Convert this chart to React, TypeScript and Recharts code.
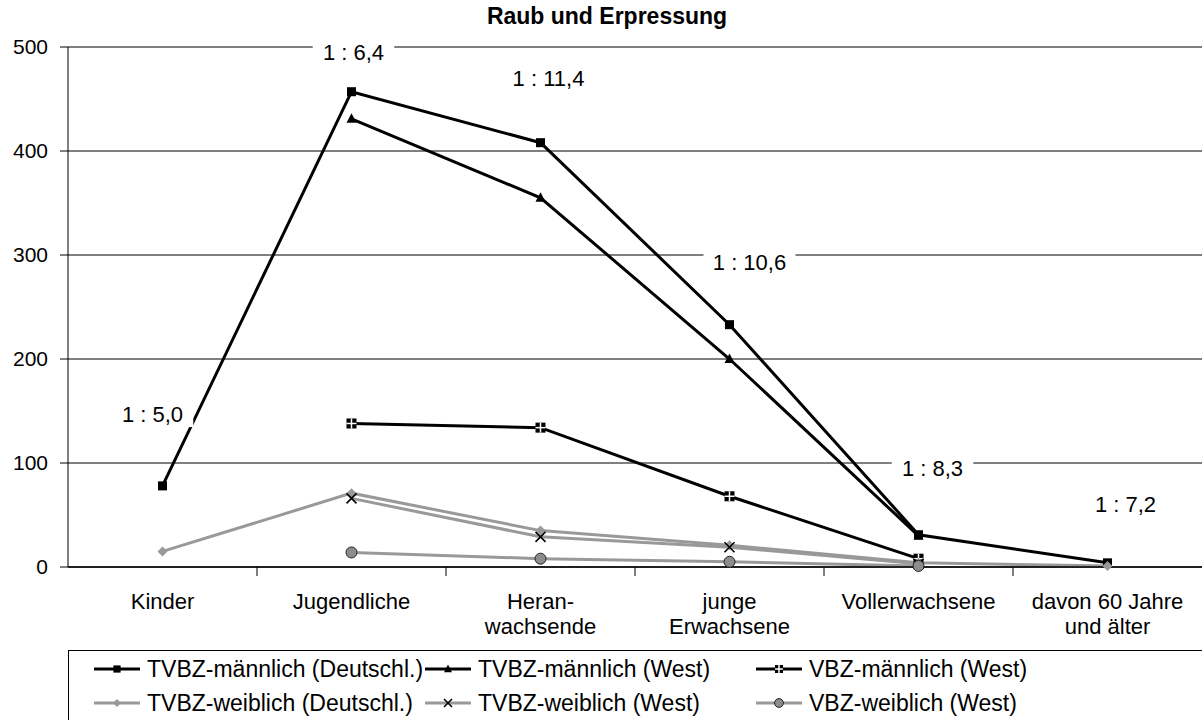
import React from 'react';
import { LineChart, Line, XAxis, YAxis, CartesianGrid, Legend, LabelList } from 'recharts';

const categories = ['Kinder', 'Jugendliche', 'Heran-\nwachsende', 'junge\nErwachsene', 'Vollerwachsene', 'davon 60 Jahre\nund älter'];

const tvbzMaennlichDe = [78, 457, 408, 233, 31, 4];
const tvbzMaennlichWest = [null, 431, 355, 200, 30, null];
const vbzMaennlichWest = [null, 138, 134, 68, 8, null];
const tvbzWeiblichDe = [15, 71, 35, 21, 4, 1];
const tvbzWeiblichWest = [null, 66, 29, 19, 3, null];
const vbzWeiblichWest = [null, 14, 8, 5, 1, null];

// Geschlechterverhältnis-Beschriftungen und ihre Höhe im Diagramm (Datenwerte)
const ratioLabels = ['1 : 5,0', '1 : 6,4', '1 : 11,4', '1 : 10,6', '1 : 8,3', '1 : 7,2'];
const ratioLabelY = [147, 495, 470, 293, 95, 61];

const yTicks = [0, 100, 200, 300, 400, 500];

const FONT = '"Liberation Sans", Arial, sans-serif';
const BLACK = '#000000';
const GREY = '#999999';
const PLOT_W = 1134;
const BAND = PLOT_W / categories.length;
// horizontale Verschiebung der Verhältnis-Beschriftungen (Layout)
const RATIO_DX = [-10, 2, 8, 20, 14, 18];

const series = [
  { key: 'tvbzMDe', name: 'TVBZ-männlich (Deutschl.)', color: BLACK, marker: 'square', values: tvbzMaennlichDe },
  { key: 'tvbzMWest', name: 'TVBZ-männlich (West)', color: BLACK, marker: 'triangle', values: tvbzMaennlichWest },
  { key: 'vbzMWest', name: 'VBZ-männlich (West)', color: BLACK, marker: 'crossSquare', values: vbzMaennlichWest },
  { key: 'tvbzWDe', name: 'TVBZ-weiblich (Deutschl.)', color: GREY, marker: 'diamond', values: tvbzWeiblichDe },
  { key: 'tvbzWWest', name: 'TVBZ-weiblich (West)', color: GREY, marker: 'x', values: tvbzWeiblichWest },
  { key: 'vbzWWest', name: 'VBZ-weiblich (West)', color: GREY, marker: 'circle', values: vbzWeiblichWest },
];

const data = categories.map((cat, i) => {
  const row: any = { cat, ratio: ratioLabels[i], ratioPos: ratioLabelY[i] };
  series.forEach(s => { row[s.key] = s.values[i]; });
  return row;
});

const Marker = ({ type, cx, cy, scale = 1 }: { type: string; cx: number; cy: number; scale?: number }) => {
  const s = scale;
  switch (type) {
    case 'square':
      return <rect x={cx - 4.5 * s} y={cy - 4.5 * s} width={9 * s} height={9 * s} fill={BLACK} />;
    case 'triangle':
      return <polygon points={`${cx},${cy - 5.5 * s} ${cx + 5 * s},${cy + 4 * s} ${cx - 5 * s},${cy + 4 * s}`} fill={BLACK} />;
    case 'crossSquare':
      return (
        <g>
          <rect x={cx - 5 * s} y={cy - 5 * s} width={10 * s} height={10 * s} fill={BLACK} />
          <line x1={cx} y1={cy - 5 * s} x2={cx} y2={cy + 5 * s} stroke="#fff" strokeWidth={1.5} />
          <line x1={cx - 5 * s} y1={cy} x2={cx + 5 * s} y2={cy} stroke="#fff" strokeWidth={1.5} />
        </g>
      );
    case 'diamond':
      return <polygon points={`${cx},${cy - 5 * s} ${cx + 5 * s},${cy} ${cx},${cy + 5 * s} ${cx - 5 * s},${cy}`} fill={GREY} />;
    case 'x':
      return (
        <g stroke={BLACK} strokeWidth={1.6}>
          <line x1={cx - 5 * s} y1={cy - 5 * s} x2={cx + 5 * s} y2={cy + 5 * s} />
          <line x1={cx - 5 * s} y1={cy + 5 * s} x2={cx + 5 * s} y2={cy - 5 * s} />
        </g>
      );
    case 'circle':
      return <circle cx={cx} cy={cy} r={5.5 * s} fill="#8c8c8c" stroke="#222" strokeWidth={1} />;
    default:
      return null;
  }
};

const makeDot = (type: string) => (props: any) => {
  const { cx, cy, index, value } = props;
  if (cx == null || cy == null || value == null || Number.isNaN(cy)) return <g key={`d-${index}`} />;
  return <g key={`d-${index}`}><Marker type={type} cx={cx} cy={cy} /></g>;
};

const CategoryTick = (props: any) => {
  const { x, y, payload, index } = props;
  const lines = String(payload.value).split('\n');
  return (
    <g>
      {index > 0 && <line x1={x - BAND / 2} y1={y} x2={x - BAND / 2} y2={y + 9} stroke={BLACK} />}
      <text x={x} y={y + 42} textAnchor="middle" fontSize={22} fontFamily={FONT} fill={BLACK}>
        {lines.map((l, i) => (
          <tspan key={i} x={x} dy={i === 0 ? 0 : 25}>{l}</tspan>
        ))}
      </text>
    </g>
  );
};

const RatioLabel = (props: any) => {
  const { x, y, value, index } = props;
  if (x == null || y == null) return null;
  const cx = x + (RATIO_DX[index] || 0);
  const w = String(value).length * 10.5 + 8;
  return (
    <g>
      <rect x={cx - w / 2} y={y - 13} width={w} height={26} fill="#fff" />
      <text x={cx} y={y + 8} textAnchor="middle" fontSize={22} fontFamily={FONT} fill={BLACK}>{value}</text>
    </g>
  );
};

const LegendBox = () => (
  <div
    style={{
      marginLeft: 68,
      width: PLOT_W,
      height: 70,
      boxSizing: 'border-box',
      borderTop: '1px solid #000',
      borderLeft: '1px solid #000',
      position: 'relative',
      fontFamily: FONT,
      fontSize: 23,
      color: '#000',
    }}
  >
    {series.map((s, i) => {
      const col = i % 3;
      const row = Math.floor(i / 3);
      return (
        <div
          key={s.key}
          style={{ position: 'absolute', left: 25 + col * 331, top: 3 + row * 34, height: 30, display: 'flex', alignItems: 'center', whiteSpace: 'nowrap' }}
        >
          <svg width={46} height={20} style={{ marginRight: 7 }}>
            <line x1={0} y1={10} x2={46} y2={10} stroke={s.color} strokeWidth={3} />
            <Marker type={s.marker} cx={23} cy={10} scale={0.8} />
          </svg>
          <span>{s.name}</span>
        </div>
      );
    })}
  </div>
);

export default function App() {
  return (
    <div style={{ position: 'absolute', left: 0, top: 0, width: 1202, height: 720, background: '#fff', overflow: 'hidden' }}>
      <div
        style={{
          position: 'absolute', left: 0, top: 3, width: 1214, textAlign: 'center',
          fontFamily: FONT, fontWeight: 'bold', fontSize: 23, color: '#000',
        }}
      >
        Raub und Erpressung
      </div>
      <LineChart width={1202} height={720} data={data} margin={{ top: 47, right: 0, left: 0, bottom: 0 }}>
        <CartesianGrid horizontal vertical={false} stroke={BLACK} strokeWidth={1} />
        <XAxis
          dataKey="cat"
          type="category"
          interval={0}
          height={83}
          tickSize={0}
          tickMargin={0}
          padding={{ left: BAND / 2, right: BAND / 2 }}
          axisLine={{ stroke: BLACK, strokeWidth: 1.5 }}
          tick={<CategoryTick />}
        />
        <YAxis
          domain={[0, 500]}
          ticks={yTicks}
          width={68}
          tickSize={8}
          tickMargin={12}
          axisLine={{ stroke: BLACK }}
          tickLine={{ stroke: BLACK }}
          tick={{ fontSize: 21, fill: BLACK, fontFamily: FONT }}
        />
        <Legend verticalAlign="bottom" align="left" content={<LegendBox />} wrapperStyle={{ left: 0, bottom: 0 }} />
        <Line
          dataKey="ratioPos"
          stroke="none"
          dot={false}
          activeDot={false}
          legendType="none"
          isAnimationActive={false}
        >
          <LabelList dataKey="ratio" content={<RatioLabel />} />
        </Line>
        {series.map(s => (
          <Line
            key={s.key}
            dataKey={s.key}
            name={s.name}
            stroke={s.color}
            strokeWidth={3}
            dot={makeDot(s.marker)}
            activeDot={false}
            isAnimationActive={false}
          />
        ))}
      </LineChart>
    </div>
  );
}
